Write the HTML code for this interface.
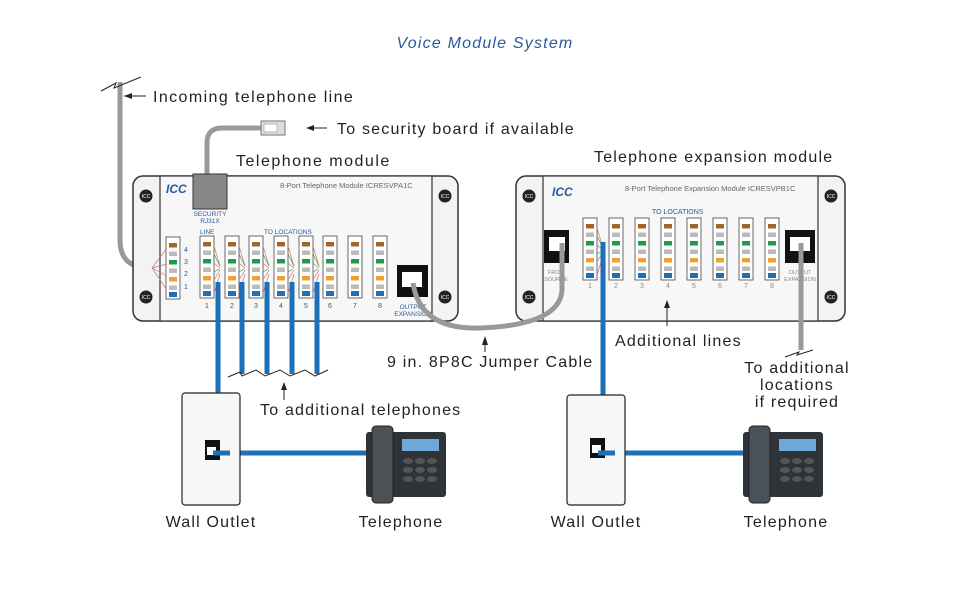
<!DOCTYPE html>
<html><head><meta charset="utf-8"><style>
html,body{margin:0;padding:0;background:#fff}
svg{display:block}
text{font-family:"Liberation Sans",sans-serif}
.L{letter-spacing:1.2px}
</style></head><body>
<svg width="970" height="600" viewBox="0 0 970 600" xmlns="http://www.w3.org/2000/svg">
<defs>
<g id="port">
<rect x="0" y="0" width="14" height="62" fill="#fff" stroke="#444" stroke-width="0.8"/>
<rect x="3" y="6" width="8" height="4.5" fill="#a0662a"/>
<rect x="3" y="14.5" width="8" height="4.5" fill="#bbb"/>
<rect x="3" y="23" width="8" height="4.5" fill="#1e9a4a"/>
<rect x="3" y="31.5" width="8" height="4.5" fill="#bbb"/>
<rect x="3" y="40" width="8" height="4.5" fill="#f0a030"/>
<rect x="3" y="48.5" width="8" height="4.5" fill="#bbb"/>
<rect x="3" y="55" width="8" height="5" fill="#1d6fb8"/>
</g>
<g id="screw"><circle r="6.5" fill="#222"/><text x="0" y="2" font-size="5" fill="#fff" text-anchor="middle">ICC</text></g>
<g id="wires">
<path d="M14 10 L20 30 M14 27 L20 32 M14 44 L20 34 M14 57 L20 38" stroke="#c77" stroke-width="0.7" fill="none"/>
<path d="M14 18 L20 30 M14 36 L19 33" stroke="#3a3" stroke-width="0.7" fill="none"/>
</g>
</defs>

<text x="485" y="48" font-size="16" font-style="italic" fill="#2a5a9a" text-anchor="middle" class="L">Voice Module System</text>

<path d="M120 82 L120 240 Q120 268 150 268 L160 268" stroke="#999" stroke-width="5" fill="none"/>
<path d="M101 91 L116 83 L114 88 L141 77" stroke="#222" stroke-width="1" fill="none"/>
<path d="M124 96 L146 96" stroke="#222" stroke-width="1"/><path d="M124 96 L132 93 L132 99Z" fill="#222"/>
<text x="153" y="102" font-size="16" fill="#222" class="L" style="letter-spacing:1.4px">Incoming telephone line</text>

<path d="M262 128 L222 128 Q207 128 207 143 L207 176" stroke="#999" stroke-width="5" fill="none"/>
<rect x="261" y="121" width="24" height="14" fill="#ddd" stroke="#777"/>
<rect x="264" y="124" width="13" height="8" fill="#fff" stroke="#999" stroke-width="0.6"/>
<path d="M307 128 L327 128" stroke="#222" stroke-width="1"/><path d="M306 128 L314 125 L314 131Z" fill="#222"/>
<text x="337" y="134" font-size="16" fill="#222" class="L">To security board if available</text>
<text x="236" y="166" font-size="16" fill="#222" class="L" style="letter-spacing:1.5px">Telephone module</text>
<text x="594" y="162" font-size="16" fill="#222" class="L">Telephone expansion module</text>

<rect x="133" y="176" width="325" height="145" rx="10" fill="#f3f3f3" stroke="#333" stroke-width="1.5"/>
<rect x="160" y="176" width="272" height="145" fill="#f7f7f7" stroke="#333" stroke-width="1.2"/>
<use href="#screw" x="146" y="196"/><use href="#screw" x="146" y="297"/>
<use href="#screw" x="445" y="196"/><use href="#screw" x="445" y="297"/>
<text x="166" y="193" font-size="12" font-weight="bold" font-style="italic" fill="#2a5a9a">ICC</text>
<text x="280" y="188" font-size="7.5" fill="#666">8-Port Telephone Module ICRESVPA1C</text>
<rect x="193" y="174" width="34" height="35" fill="#888" stroke="#333"/>
<text x="210" y="216" font-size="6.5" fill="#2a5a9a" text-anchor="middle">SECURITY</text>
<text x="210" y="223" font-size="6.5" fill="#2a5a9a" text-anchor="middle">RJ31X</text>
<text x="200" y="234" font-size="6.5" fill="#2a5a9a">LINE</text>
<text x="264" y="234" font-size="6.5" fill="#2a5a9a">TO LOCATIONS</text>
<use href="#port" x="166" y="237"/>
<g font-size="7" fill="#2a5a9a"><text x="184" y="252">4</text><text x="184" y="264">3</text><text x="184" y="276">2</text><text x="184" y="289">1</text></g>
<use href="#port" x="200" y="236"/><use href="#port" x="225" y="236"/><use href="#port" x="249" y="236"/><use href="#port" x="274" y="236"/><use href="#port" x="299" y="236"/><use href="#port" x="323" y="236"/><use href="#port" x="348" y="236"/><use href="#port" x="373" y="236"/>
<use href="#wires" x="200" y="236"/><use href="#wires" x="225" y="236"/><use href="#wires" x="249" y="236"/><use href="#wires" x="274" y="236"/><use href="#wires" x="299" y="236"/>
<path d="M152 268 L167 248 M152 268 L167 264 M152 268 L167 276 M152 268 L167 290" stroke="#c77" stroke-width="0.7"/>
<g font-size="7" fill="#2a5a9a" text-anchor="middle"><text x="207" y="308">1</text><text x="232" y="308">2</text><text x="256" y="308">3</text><text x="281" y="308">4</text><text x="306" y="308">5</text><text x="330" y="308">6</text><text x="355" y="308">7</text><text x="380" y="308">8</text></g>
<rect x="397" y="265" width="31" height="32" fill="#111"/>
<rect x="402" y="272" width="20" height="15" fill="#fff"/>
<text x="413" y="309" font-size="6.5" fill="#2a5a9a" text-anchor="middle">OUTPUT</text>
<text x="413" y="316" font-size="6.5" fill="#2a5a9a" text-anchor="middle">EXPANSION</text>

<rect x="516" y="176" width="329" height="145" rx="10" fill="#f3f3f3" stroke="#333" stroke-width="1.5"/>
<rect x="543" y="176" width="275" height="145" fill="#f7f7f7" stroke="#333" stroke-width="1.2"/>
<use href="#screw" x="529" y="196"/><use href="#screw" x="529" y="297"/>
<use href="#screw" x="831" y="196"/><use href="#screw" x="831" y="297"/>
<text x="552" y="196" font-size="12" font-weight="bold" font-style="italic" fill="#2a5a9a">ICC</text>
<text x="625" y="191" font-size="7.5" fill="#666">8-Port Telephone Expansion Module ICRESVPB1C</text>
<text x="652" y="214" font-size="7" fill="#2a5a9a">TO LOCATIONS</text>
<rect x="544" y="230" width="25" height="33" fill="#111"/><rect x="549" y="237" width="16" height="14" fill="#fff"/>
<rect x="785" y="230" width="30" height="33" fill="#111"/><rect x="790" y="237" width="20" height="14" fill="#fff"/>
<text x="556" y="274" font-size="5.5" fill="#888" text-anchor="middle">FROM</text><text x="556" y="281" font-size="5.5" fill="#888" text-anchor="middle">SOURCE</text>
<text x="800" y="274" font-size="5.5" fill="#888" text-anchor="middle">OUTPUT</text><text x="800" y="281" font-size="5.5" fill="#888" text-anchor="middle">EXPANSION</text>
<use href="#port" x="583" y="218"/><use href="#port" x="609" y="218"/><use href="#port" x="635" y="218"/><use href="#port" x="661" y="218"/><use href="#port" x="687" y="218"/><use href="#port" x="713" y="218"/><use href="#port" x="739" y="218"/><use href="#port" x="765" y="218"/>
<use href="#wires" x="583" y="218"/>
<g font-size="7" fill="#888" text-anchor="middle"><text x="590" y="288">1</text><text x="616" y="288">2</text><text x="642" y="288">3</text><text x="668" y="288">4</text><text x="694" y="288">5</text><text x="720" y="288">6</text><text x="746" y="288">7</text><text x="772" y="288">8</text></g>

<path d="M413 283 Q420 330 480 328 Q560 325 562 290 L562 243" stroke="#999" stroke-width="5" fill="none"/>
<path d="M801 243 L801 350" stroke="#999" stroke-width="5" fill="none"/>
<path d="M785 357 L799 352 L797 355 L813 350" stroke="#222" stroke-width="1" fill="none"/>

<g stroke="#1d6fb8" stroke-width="5" fill="none">
<path d="M218 282 L218 395"/><path d="M242 282 L242 374"/><path d="M267 282 L267 374"/><path d="M292 282 L292 374"/><path d="M317 282 L317 374"/>
<path d="M603 242 L603 396"/>
<path d="M213 453 L368 453"/><path d="M598 453 L746 453"/>
</g>
<path d="M228 377 L240 372 L242 376 L256 370 L265 376 L280 370 L290 376 L305 370 L315 376 L328 370" stroke="#222" stroke-width="1" fill="none"/>
<path d="M284 385 L284 400" stroke="#222" stroke-width="1"/><path d="M284 382 L281 390 L287 390Z" fill="#222"/>
<text x="260" y="415" font-size="16" fill="#222" class="L">To additional telephones</text>
<path d="M485 343 L485 352" stroke="#222" stroke-width="1"/><path d="M485 336 L482 345 L488 345Z" fill="#222"/>
<text x="387" y="367" font-size="16" fill="#222" class="L">9 in. 8P8C Jumper Cable</text>
<path d="M667 302 L667 326" stroke="#222" stroke-width="1"/><path d="M667 300 L664 308 L670 308Z" fill="#222"/>
<text x="615" y="346" font-size="16" fill="#222" class="L">Additional lines</text>
<g font-size="16" fill="#222" text-anchor="middle" class="L"><text x="797" y="373">To additional</text><text x="797" y="390">locations</text><text x="797" y="407">if required</text></g>

<rect x="182" y="393" width="58" height="112" rx="3" fill="#f7f7f7" stroke="#222" stroke-width="1.2"/>
<rect x="205" y="440" width="15" height="20" fill="#111"/><rect x="207" y="447" width="9" height="8" fill="#fff"/>
<rect x="567" y="395" width="58" height="110" rx="3" fill="#f7f7f7" stroke="#222" stroke-width="1.2"/>
<rect x="590" y="438" width="15" height="20" fill="#111"/><rect x="592" y="445" width="9" height="8" fill="#fff"/>
<g stroke="#1d6fb8" stroke-width="5"><path d="M213 453 L230 453"/><path d="M598 453 L615 453"/></g>
<text x="211" y="527" font-size="16" fill="#222" text-anchor="middle" class="L">Wall Outlet</text>
<text x="596" y="527" font-size="16" fill="#222" text-anchor="middle" class="L">Wall Outlet</text>

<g id="ph1">
<rect x="366" y="432" width="80" height="65" rx="3" fill="#2e3338"/>
<rect x="372" y="426" width="21" height="77" rx="4" fill="#4a5157" stroke="#222"/>
<rect x="402" y="439" width="37" height="12" fill="#6fa8d8"/>
<g fill="#555"><ellipse cx="408" cy="461" rx="5" ry="3"/><ellipse cx="420" cy="461" rx="5" ry="3"/><ellipse cx="432" cy="461" rx="5" ry="3"/>
<ellipse cx="408" cy="470" rx="5" ry="3"/><ellipse cx="420" cy="470" rx="5" ry="3"/><ellipse cx="432" cy="470" rx="5" ry="3"/>
<ellipse cx="408" cy="479" rx="5" ry="3"/><ellipse cx="420" cy="479" rx="5" ry="3"/><ellipse cx="432" cy="479" rx="5" ry="3"/></g>
</g>
<use href="#ph1" x="377" y="0"/>
<text x="401" y="527" font-size="16" fill="#222" text-anchor="middle" class="L">Telephone</text>
<text x="786" y="527" font-size="16" fill="#222" text-anchor="middle" class="L">Telephone</text>
</svg>
</body></html>
